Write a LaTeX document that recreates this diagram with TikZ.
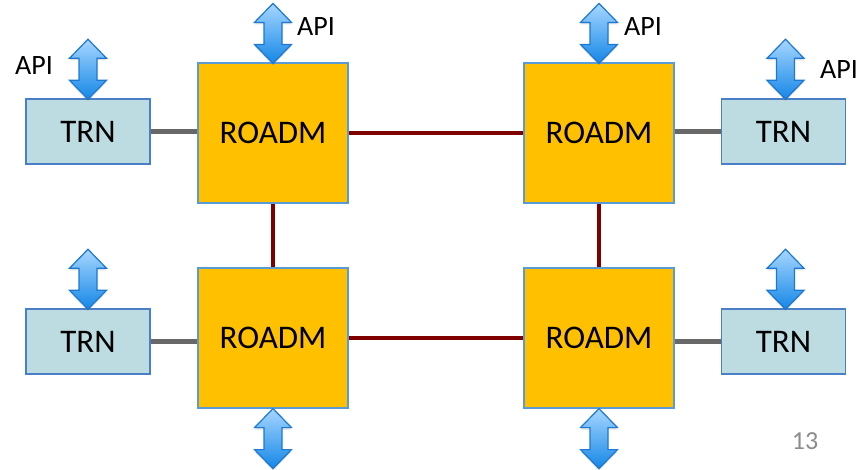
\documentclass[tikz,border=0pt]{standalone}
\usepackage{fontspec}
\setmainfont{Carlito}
\usetikzlibrary{calc,shadows}
\definecolor{roadmfill}{HTML}{FFC000}
\definecolor{roadmedge}{HTML}{5B9BD5}
\definecolor{trnfill}{HTML}{BCDCE2}
\definecolor{trnedge}{HTML}{4A7EC6}
\definecolor{fiber}{HTML}{7F0000}
\definecolor{client}{HTML}{686868}
\definecolor{arrowtop}{HTML}{A6D6FF}
\definecolor{arrowbot}{HTML}{1587E6}
\definecolor{arrowedge}{HTML}{1C78D0}
\definecolor{pagenum}{HTML}{8C8C8C}
\tikzset{
  roadm/.style={draw=roadmedge, line width=1.2pt, fill=roadmfill,
    minimum width=150pt, minimum height=140pt, inner sep=0pt,
    font=\fontsize{33}{40}\selectfont},
  trn/.style={draw=trnedge, line width=1.5pt, fill=trnfill,
    minimum width=124pt, minimum height=65pt, inner sep=0pt,
    font=\fontsize{33}{40}\selectfont},
  apilabel/.style={inner sep=0pt, font=\fontsize{28}{34}\selectfont},
  fiberlink/.style={fiber, line width=3.5pt},
  clientlink/.style={client, line width=5pt},
  % double-headed API arrow, origin at its upper tip, 60 units long
  pics/apiarrow/.style={code={
    \path[draw=arrowedge, line width=1.2pt, line join=miter,
      top color=arrowtop, bottom color=arrowbot,
      drop shadow={opacity=0.25, shadow xshift=0pt, shadow yshift=-2pt}]
      (0,0) -- (18.5,19) -- (9,19) -- (9,41) -- (18.5,41) -- (0,60)
      -- (-18.5,41) -- (-9,41) -- (-9,19) -- (-18.5,19) -- cycle;
  }}
}
\begin{document}
\begin{tikzpicture}[x=1pt, y=-1pt]
\useasboundingbox (0,0) rectangle (868,469);

% ROADM nodes
\node[roadm] (tl) at (273,133) {ROADM};
\node[roadm] (tr) at (599,133) {ROADM};
\node[roadm] (bl) at (273,338) {ROADM};
\node[roadm] (br) at (599,338) {ROADM};

% transponders
\node[trn] (trnl)  at (88,131.5)  {TRN};
\node[trn] (trnr)  at (783.5,131.5) {TRN};
\node[trn] (trnbl) at (88,341.5)  {TRN};
\node[trn] (trnbr) at (783.5,341.5) {TRN};

% fibre links between ROADMs
\draw[fiberlink] (tl.east) -- (tr.west);
\draw[fiberlink] (bl.east) -- (br.west);
\draw[fiberlink] (tl.south) -- (bl.north);
\draw[fiberlink] (tr.south) -- (br.north);

% client links from transponders
\draw[clientlink] (trnl.east) -- (trnl.east -| tl.west);
\draw[clientlink] (trnr.west) -- (trnr.west -| tr.east);
\draw[clientlink] (trnbl.east) -- (trnbl.east -| bl.west);
\draw[clientlink] (trnbr.west) -- (trnbr.west -| br.east);

% API arrows
\pic at ($(tl.north)+(0,-59)$) {apiarrow};
\pic at ($(tr.north)+(0,-59)$) {apiarrow};
\pic at ($(trnl.north)+(0,-59)$) {apiarrow};
\pic at ($(trnr.north)+(2,-59)$) {apiarrow};
\pic at ($(trnbl.north)+(0,-59)$) {apiarrow};
\pic at ($(trnbr.north)+(2,-59)$) {apiarrow};
\pic at (bl.south) {apiarrow};
\pic at (br.south) {apiarrow};

% API labels
\node[apilabel] (apitl)   at (316,27) {API};
\node[apilabel] (apitr)   at (643,27) {API};
\node[apilabel] (apitrnl) at (34,66)  {API};
\node[apilabel] (apitrnr) at (839,70) {API};

% slide number
\node[inner sep=0pt, text=pagenum, font=\fontsize{26}{31}\selectfont] (page) at (805,441) {13};
\end{tikzpicture}
\end{document}
